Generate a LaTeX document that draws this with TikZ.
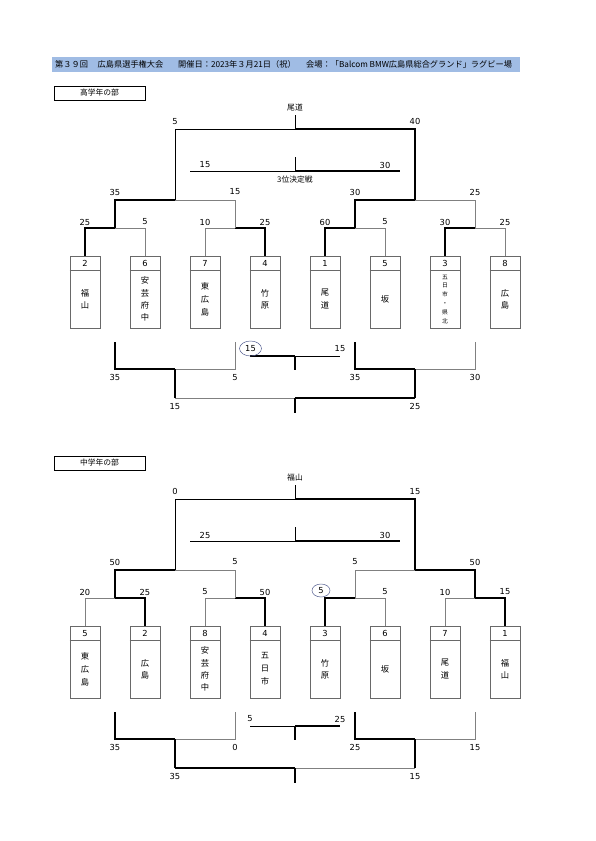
\documentclass[tikz,border=0pt]{standalone}
\usepackage{fontspec}
\setmainfont{DejaVu Sans}
\newfontfamily\jp{Noto Sans CJK JP}
\usetikzlibrary{shapes.geometric}
\definecolor{hdr}{RGB}{160,188,228}
\definecolor{lgray}{RGB}{128,128,128}
\definecolor{bgray}{RGB}{105,105,105}
\definecolor{ring}{RGB}{85,95,145}
\tikzset{
  win/.style={line width=1.3pt, black},
  lose/.style={line width=0.6pt, lgray},
  midl/.style={line width=0.8pt, black},
  thinb/.style={line width=0.6pt, black},
  num/.style={inner sep=0pt, font=\fontsize{8.3}{10}\selectfont},
  ringed/.style={num, draw=ring, line width=0.5pt, ellipse, minimum width=22pt, minimum height=15pt},
  jptxt/.style={inner sep=0pt, font=\jp\fontsize{7.8}{9}\selectfont},
  hdrtxt/.style={inner sep=0pt, anchor=west, font=\jp\fontsize{8.2}{9}\selectfont},
  secbox/.style={draw, line width=0.9pt, minimum width=91pt, minimum height=14pt, inner sep=0pt, font=\jp\fontsize{7.8}{9}\selectfont},
  tbox/.style={draw=bgray, line width=0.7pt, minimum width=30pt, minimum height=72pt, inner sep=0pt},
  tdiv/.style={draw=bgray, line width=0.7pt},
  tnB/.style={inner sep=0pt, align=center, font=\jp\fontsize{8.3}{12.5}\selectfont},
  tnC/.style={inner sep=0pt, align=center, font=\jp\fontsize{8.3}{13}\selectfont},
  tnD/.style={inner sep=0pt, align=center, font=\jp\fontsize{8.3}{12.3}\selectfont},
  tnS/.style={inner sep=0pt, align=center, font=\jp\fontsize{5.8}{8.8}\selectfont},
}
\begin{document}
\begin{tikzpicture}[x=1pt,y=-1pt]
\useasboundingbox (0,0) rectangle (595,841);
% header
\fill[hdr] (52,57) rectangle (520,72);
\node[hdrtxt] (h1) at (55,64.5) {第３９回};
\node[hdrtxt] (h2) at (97.5,64.5) {広島県選手権大会};
\node[hdrtxt] (h3) at (178,64.5) {開催日：2023年３月21日（祝）};
\node[hdrtxt] (h4) at (306,64.5) {会場：「Balcom BMW広島県総合グランド」ラグビー場};

% ================= Section A =================
\node[secbox] (Asec) at (99.5,93) {高学年の部};
\foreach \i/\x/\s/\n/\st in {1/85/2/{福\\山}/tnB, 2/145/6/{安\\芸\\府\\中}/tnD, 3/205/7/{東\\広\\島}/tnC, 4/265/4/{竹\\原}/tnB,
  5/325/1/{尾\\道}/tnB, 6/385/5/{坂}/tnB, 7/445/3/{五\\日\\市\\・\\県\\北}/tnS, 8/505/8/{広\\島}/tnB}{
  \node[tbox] (A\i) at (\x,292) {};
  \draw[tdiv] ([yshift=-15pt]A\i.north west) -- ([yshift=-15pt]A\i.north east);
  \node[num] (A\i s) at ([yshift=-7.5pt]A\i.north) {\s};
  \node[\st] (A\i n) at ([yshift=-43.5pt]A\i.north) {\n};
}
\coordinate (Aq1) at (115,228); \coordinate (Aq2) at (235,228);
\coordinate (Aq3) at (355,228); \coordinate (Aq4) at (475,228);
\coordinate (As1) at (175,200); \coordinate (As2) at (415,200);
\coordinate (Af) at (295,129); \coordinate (Aft) at (295,115);
\coordinate (Atl) at (190,171); \coordinate (Atm) at (295,171);
\coordinate (Atr) at (400,171); \coordinate (Att) at (295,157);
\draw[win] (A1.north) |- (Aq1); \draw[lose] (A2.north) |- (Aq1);
\draw[lose] (A3.north) |- (Aq2); \draw[win] (A4.north) |- (Aq2);
\draw[win] (A5.north) |- (Aq3); \draw[lose] (A6.north) |- (Aq3);
\draw[win] (A7.north) |- (Aq4); \draw[lose] (A8.north) |- (Aq4);
\draw[win] (Aq1) |- (As1); \draw[lose] (Aq2) |- (As1);
\draw[win] (Aq3) |- (As2); \draw[lose] (Aq4) |- (As2);
\draw[midl] (As1) |- (Af); \draw[win] (As2) |- (Af);
\draw[midl] (Af) -- (Aft);
\draw[midl] (Atl) -- (Atm); \draw[win] (Atm) -- (Atr); \draw[midl] (Atm) -- (Att);
\node[jptxt] (Achamp) at (295,108) {尾道};
\node[num] (Afl) at (175,121.5) {5};  \node[num] (Afr) at (415,121.5) {40};
\node[num] (Atla) at (205,165) {15}; \node[num] (Atra) at (385,165) {30};
\node[jptxt] (Atlab) at (295,180) {3位決定戦};
\node[num] (As1a) at (115,192) {35}; \node[num] (As1b) at (235,192) {15};
\node[num] (As2a) at (355,192) {30}; \node[num] (As2b) at (475,192) {25};
\node[num] (Aq1a) at (85,222) {25};  \node[num] (Aq1b) at (145,222) {5};
\node[num] (Aq2a) at (205,222) {10}; \node[num] (Aq2b) at (265,222) {25};
\node[num] (Aq3a) at (325,222) {60}; \node[num] (Aq3b) at (385,222) {5};
\node[num] (Aq4a) at (445,222) {30}; \node[num] (Aq4b) at (505,222) {25};
% lower bracket A
\coordinate (Ab1) at (115,342); \coordinate (Ab2) at (235,342);
\coordinate (Ab3) at (355,342); \coordinate (Ab4) at (475,342);
\coordinate (Ac1) at (175,369); \coordinate (Ac2) at (415,369);
\coordinate (Ac1d) at (175,398); \coordinate (Ac2d) at (415,398);
\coordinate (Ad) at (295,398); \coordinate (Ade) at (295,413);
\coordinate (Aml) at (250,356); \coordinate (Amm) at (295,356);
\coordinate (Amr) at (340,356); \coordinate (Amb) at (295,370);
\draw[win] (Ab1) |- (Ac1); \draw[lose] (Ab2) |- (Ac1);
\draw[win] (Ab3) |- (Ac2); \draw[lose] (Ab4) |- (Ac2);
\draw[win] (Ac1) -- (Ac1d); \draw[win] (Ac2) -- (Ac2d);
\draw[lose] (Ac1d) -- (Ad); \draw[win] (Ac2d) -- (Ad); \draw[win] (Ad) -- (Ade);
\draw[win] (Aml) -- (Amm); \draw[thinb] (Amm) -- (Amr); \draw[win] (Amm) -- (Amb);
\node[num] (Ab1a) at (115,377.5) {35}; \node[num] (Ab2a) at (235,377.5) {5};
\node[num] (Ab3a) at (355,377.5) {35}; \node[num] (Ab4a) at (475,377.5) {30};
\node[num] (Ada) at (175,406.5) {15}; \node[num] (Adb) at (415,406.5) {25};
\node[ringed] (Ama) at (250.5,348.5) {15}; \node[num] (Amb2) at (340,349) {15};

% ================= Section B =================
\begin{scope}[yshift=-370pt]
\node[secbox] (Bsec) at (99.5,93) {中学年の部};
\foreach \i/\x/\s/\n/\st in {1/85/5/{東\\広\\島}/tnC, 2/145/2/{広\\島}/tnB, 3/205/8/{安\\芸\\府\\中}/tnD, 4/265/4/{五\\日\\市}/tnC,
  5/325/3/{竹\\原}/tnB, 6/385/6/{坂}/tnB, 7/445/7/{尾\\道}/tnB, 8/505/1/{福\\山}/tnB}{
  \node[tbox] (B\i) at (\x,292) {};
  \draw[tdiv] ([yshift=-15pt]B\i.north west) -- ([yshift=-15pt]B\i.north east);
  \node[num] (B\i s) at ([yshift=-7.5pt]B\i.north) {\s};
  \node[\st] (B\i n) at ([yshift=-43.5pt]B\i.north) {\n};
}
\coordinate (Bq1) at (115,228); \coordinate (Bq2) at (235,228);
\coordinate (Bq3) at (355,228); \coordinate (Bq4) at (475,228);
\coordinate (Bs1) at (175,200); \coordinate (Bs2) at (415,200);
\coordinate (Bf) at (295,129); \coordinate (Bft) at (295,115);
\coordinate (Btl) at (190,171); \coordinate (Btm) at (295,171);
\coordinate (Btr) at (400,171); \coordinate (Btt) at (295,157);
\draw[lose] (B1.north) |- (Bq1); \draw[win] (B2.north) |- (Bq1);
\draw[lose] (B3.north) |- (Bq2); \draw[win] (B4.north) |- (Bq2);
\draw[win] (B5.north) |- (Bq3); \draw[lose] (B6.north) |- (Bq3);
\draw[lose] (B7.north) |- (Bq4); \draw[win] (B8.north) |- (Bq4);
\draw[win] (Bq1) |- (Bs1); \draw[lose] (Bq2) |- (Bs1);
\draw[lose] (Bq3) |- (Bs2); \draw[win] (Bq4) |- (Bs2);
\draw[midl] (Bs1) |- (Bf); \draw[win] (Bs2) |- (Bf);
\draw[midl] (Bf) -- (Bft);
\draw[midl] (Btl) -- (Btm); \draw[win] (Btm) -- (Btr); \draw[midl] (Btm) -- (Btt);
\node[jptxt] (Bchamp) at (295,108) {福山};
\node[num] (Bfl) at (175,121.5) {0};  \node[num] (Bfr) at (415,121.5) {15};
\node[num] (Btla) at (205,165) {25}; \node[num] (Btra) at (385,165) {30};
\node[num] (Bs1a) at (115,192) {50}; \node[num] (Bs1b) at (235,192) {5};
\node[num] (Bs2a) at (355,192) {5};  \node[num] (Bs2b) at (475,192) {50};
\node[num] (Bq1a) at (85,222) {20};  \node[num] (Bq1b) at (145,222) {25};
\node[num] (Bq2a) at (205,222) {5};  \node[num] (Bq2b) at (265,222) {50};
\node[ringed, minimum width=18pt, minimum height=13pt] (Bq3a) at (321,220.5) {5};
\node[num] (Bq3b) at (385,222) {5};
\node[num] (Bq4a) at (445,222) {10}; \node[num] (Bq4b) at (505,222) {15};
% lower bracket B
\coordinate (Bb1) at (115,342); \coordinate (Bb2) at (235,342);
\coordinate (Bb3) at (355,342); \coordinate (Bb4) at (475,342);
\coordinate (Bc1) at (175,369); \coordinate (Bc2) at (415,369);
\coordinate (Bc1d) at (175,398); \coordinate (Bc2d) at (415,398);
\coordinate (Bd) at (295,398); \coordinate (Bde) at (295,413);
\coordinate (Bml) at (250,356); \coordinate (Bmm) at (295,356);
\coordinate (Bmr) at (340,356); \coordinate (Bmb) at (295,370);
\draw[win] (Bb1) |- (Bc1); \draw[lose] (Bb2) |- (Bc1);
\draw[win] (Bb3) |- (Bc2); \draw[lose] (Bb4) |- (Bc2);
\draw[win] (Bc1) -- (Bc1d); \draw[win] (Bc2) -- (Bc2d);
\draw[win] (Bc1d) -- (Bd); \draw[lose] (Bc2d) -- (Bd); \draw[win] (Bd) -- (Bde);
\draw[thinb] (Bml) -- (Bmm); \draw[win] (Bmm) -- (Bmr); \draw[win] (Bmm) -- (Bmb);
\node[num] (Bb1a) at (115,377.5) {35}; \node[num] (Bb2a) at (235,377.5) {0};
\node[num] (Bb3a) at (355,377.5) {25}; \node[num] (Bb4a) at (475,377.5) {15};
\node[num] (Bda) at (175,406.5) {35}; \node[num] (Bdb) at (415,406.5) {15};
\node[num] (Bma) at (250,349) {5}; \node[num] (Bmb2) at (340,349) {25};
\end{scope}
\end{tikzpicture}
\end{document}
